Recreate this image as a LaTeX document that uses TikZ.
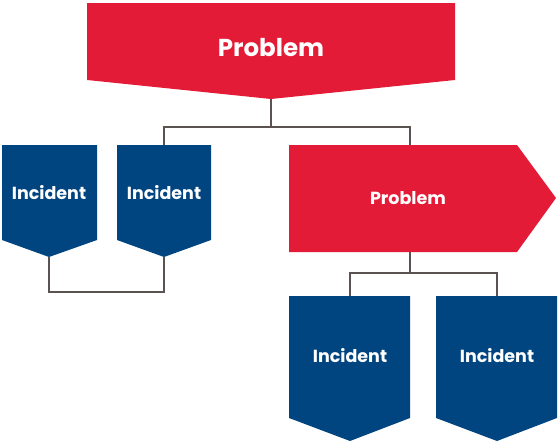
\documentclass[tikz,border=0pt]{standalone}
\usepackage{fontspec}
\setmainfont{Poppins}
\usepackage{tikz}
\usetikzlibrary{positioning}
\definecolor{probred}{HTML}{E31B37}
\definecolor{incblue}{HTML}{00457F}
\definecolor{linkgray}{HTML}{5B5352}

\begin{document}
\begin{tikzpicture}[x=1pt,y=-1pt,
  boxtext/.style={text=white, font=\bfseries\fontsize{17.5}{17.5}\selectfont},
  bigtext/.style={text=white, font=\bfseries\fontsize{24.5}{24.5}\selectfont},
  link/.style={draw=linkgray, line width=2pt}]
\useasboundingbox (0,0) rectangle (558,442);
% ---- top: main problem ----
\fill[probred] (87,3) -- (455,3) -- (455,80) -- (271,99) coordinate (topTip)
  -- (87,80) -- cycle;
\node[bigtext] (mainProb) at (271,48) {Problem};
% ---- left: two incidents ----
\fill[incblue] (2,145) -- (97,145) -- (97,240) -- (49,257) coordinate (incAtip)
  -- (2,240) -- cycle;
\node[boxtext] (incA) at (49,193) {Incident};
\fill[incblue] (117,145) -- (211,145) -- (211,240)
  -- (164,257) coordinate (incBtip) -- (117,240) -- cycle;
\coordinate (incBtop) at (164,145);
\node[boxtext] (incB) at (164,193) {Incident};
% ---- right: sub problem ----
\fill[probred] (289,145) -- (517,145) -- (556,198) -- (517,252) -- (289,252) -- cycle;
\coordinate (subTop) at (410,145);
\coordinate (subBot) at (410,252);
\node[boxtext] (subProb) at (408,198) {Problem};
% ---- bottom right: two incidents ----
\fill[incblue] (289,296) -- (410,296) -- (410,418) -- (350,441) -- (289,418) -- cycle;
\coordinate (incCtop) at (350,296);
\node[boxtext] (incC) at (350,356) {Incident};
\fill[incblue] (436,296) -- (557,296) -- (557,418) -- (497,441) -- (436,418) -- cycle;
\coordinate (incDtop) at (497,296);
\node[boxtext] (incD) at (497,356) {Incident};
% ---- connectors ----
\coordinate (fork) at (271,127);
\draw[link] (topTip) -- (fork);
\draw[link] (incBtop) |- (fork) -| (subTop);
\coordinate (lowFork) at (106,292);
\draw[link] (incAtip) |- (lowFork) -| (incBtip);
\coordinate (subFork) at (410,273);
\draw[link] (subBot) -- (subFork);
\draw[link] (incCtop) |- (subFork) -| (incDtop);
\end{tikzpicture}
\end{document}
